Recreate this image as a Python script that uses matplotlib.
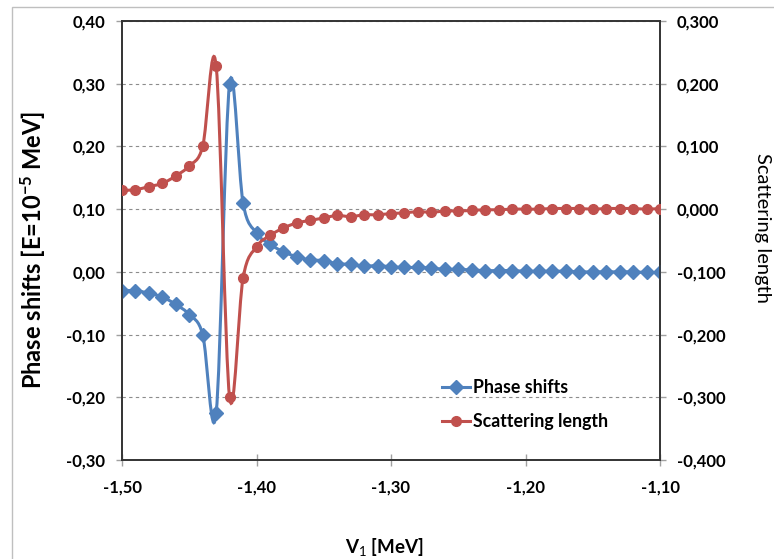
import numpy as np
import matplotlib
matplotlib.use('Agg')
import matplotlib.pyplot as plt
import matplotlib.ticker as ticker
from matplotlib.path import Path
from matplotlib.patches import PathPatch, Rectangle
from matplotlib.lines import Line2D

plt.rcParams['font.family'] = ['Lato', 'DejaVu Sans']
plt.rcParams['mathtext.fontset'] = 'custom'
plt.rcParams['mathtext.rm'] = 'Lato'
plt.rcParams['mathtext.it'] = 'Lato:italic'
plt.rcParams['mathtext.bf'] = 'Lato:bold'

# V1 values [MeV]
v1 = [-1.50, -1.49, -1.48, -1.47, -1.46, -1.45, -1.44, -1.43, -1.42, -1.41,
      -1.40, -1.39, -1.38, -1.37, -1.36, -1.35, -1.34, -1.33, -1.32, -1.31,
      -1.30, -1.29, -1.28, -1.27, -1.26, -1.25, -1.24, -1.23, -1.22, -1.21,
      -1.20, -1.19, -1.18, -1.17, -1.16, -1.15, -1.14, -1.13, -1.12, -1.11,
      -1.10]

phase_shifts = [-0.030, -0.030, -0.034, -0.040, -0.052, -0.068, -0.100, -0.225, 0.300, 0.110,
                0.062, 0.044, 0.032, 0.024, 0.019, 0.018, 0.013, 0.012, 0.009, 0.010,
                0.008, 0.007, 0.007, 0.006, 0.004, 0.004, 0.003, 0.002, 0.002, 0.002,
                0.001, 0.001, 0.001, 0.001, 0.000, 0.000, 0.000, 0.000, 0.000, -0.001,
                -0.001]

scattering_length = [0.030, 0.031, 0.036, 0.041, 0.053, 0.069, 0.100, 0.228, -0.300, -0.110,
                     -0.060, -0.042, -0.030, -0.022, -0.018, -0.014, -0.010, -0.012, -0.009, -0.009,
                     -0.007, -0.006, -0.004, -0.005, -0.003, -0.003, -0.002, -0.001, -0.001, 0.000,
                     0.000, 0.000, 0.001, 0.001, 0.001, 0.000, 0.001, 0.001, 0.001, 0.000,
                     0.001]

BLUE = '#4F81BD'
RED = '#C0504D'
W, H = 774, 559


def smooth_path(x, y):
    """Excel-style smoothed line as cubic Bezier segments."""
    pts = np.column_stack([x, y])
    n = len(pts)
    verts = [pts[0]]
    codes = [Path.MOVETO]
    for i in range(n - 1):
        p0 = pts[i - 1] if i > 0 else pts[i]
        p1 = pts[i]
        p2 = pts[i + 1]
        p3 = pts[i + 2] if i + 2 < n else pts[i + 1]
        c1 = p1 + (p2 - p0) / 6.0
        c2 = p2 - (p3 - p1) / 6.0
        verts += [c1, c2, p2]
        codes += [Path.CURVE4] * 3
    return Path(verts, codes)


def fmt(decimals):
    return ticker.FuncFormatter(lambda v, pos: f'{v:.{decimals}f}'.replace('.', ','))


fig = plt.figure(figsize=(W / 100, H / 100), dpi=100)
fig.patches.append(Rectangle((12 / W, -0.05), 1.1, 1 - 7 / H + 0.05, transform=fig.transFigure,
                             fill=False, edgecolor='#bfbfbf', linewidth=1.0))

ax = fig.add_axes([122 / W, 1 - 460 / H, 538 / W, 439 / H])
ax2 = ax.twinx()

ax.set_xlim(-1.50, -1.10)
ax.set_ylim(-0.30, 0.40)
ax2.set_ylim(-0.400, 0.300)
ax.xaxis.set_major_locator(ticker.MultipleLocator(0.10))
ax.yaxis.set_major_locator(ticker.MultipleLocator(0.10))
ax2.yaxis.set_major_locator(ticker.MultipleLocator(0.10))
ax.xaxis.set_major_formatter(fmt(2))
ax.yaxis.set_major_formatter(fmt(2))
ax2.yaxis.set_major_formatter(fmt(3))

for a in (ax, ax2):
    for s in a.spines.values():
        s.set_color('#333333')
        s.set_linewidth(1.2)
ax.tick_params(axis='x', direction='inout', length=8, color='#a0a0a0', width=1.0, pad=10,
               labelsize=12)
ax.tick_params(axis='y', direction='out', length=4, color='#a0a0a0', width=1.0, pad=8,
               labelsize=12)
ax2.tick_params(axis='y', direction='out', length=4, color='#a0a0a0', width=1.0, pad=8,
                labelsize=12)
for lab in ax.get_xticklabels() + ax.get_yticklabels() + ax2.get_yticklabels():
    lab.set_fontweight('bold')

ax.grid(axis='y', color='#8c8c8c', linestyle=(0, (3, 3)), linewidth=0.8)
ax.set_axisbelow(True)

ax.add_patch(PathPatch(smooth_path(v1, phase_shifts), fill=False, edgecolor=BLUE,
                       linewidth=2.2, zorder=3))
ax.plot(v1, phase_shifts, linestyle='none', marker='D', markersize=7, color=BLUE, zorder=4)
ax2.add_patch(PathPatch(smooth_path(v1, scattering_length), fill=False, edgecolor=RED,
                        linewidth=2.2, zorder=3))
ax2.plot(v1, scattering_length, linestyle='none', marker='o', markersize=7, color=RED, zorder=4)

ax.set_ylabel('Phase shifts [E=10$^{\\mathbf{-5}}$ MeV]', fontsize=17, fontweight='bold')
ax.yaxis.set_label_coords((33 - 122) / 538, (460 - 250) / 439)
ax.yaxis.label.set_verticalalignment('center')
ax2.set_ylabel('Scattering length', fontsize=14.5, rotation=-90)
ax2.yaxis.set_label_coords((762 - 122) / 538, (460 - 228) / 439)
ax2.yaxis.label.set_verticalalignment('center')
ax.set_xlabel('V$_1$ [MeV]', fontsize=13.5, fontweight='bold')
ax.xaxis.set_label_coords((384 - 122) / 538, (460 - 547) / 439)
ax.xaxis.label.set_verticalalignment('center')

handles = [Line2D([], [], color=BLUE, linewidth=2.2, marker='D', markersize=7),
           Line2D([], [], color=RED, linewidth=2.2, marker='o', markersize=7)]
fig.legend(handles, ['Phase shifts', 'Scattering length'], loc='upper left',
           bbox_to_anchor=(442 / W, 1 - 379 / H), frameon=False, borderpad=0,
           borderaxespad=0, handlelength=1.6, handletextpad=0.15, labelspacing=0.95,
           prop={'size': 12.8, 'weight': 'bold'})

fig.savefig('out.png', dpi=100, facecolor='white')
